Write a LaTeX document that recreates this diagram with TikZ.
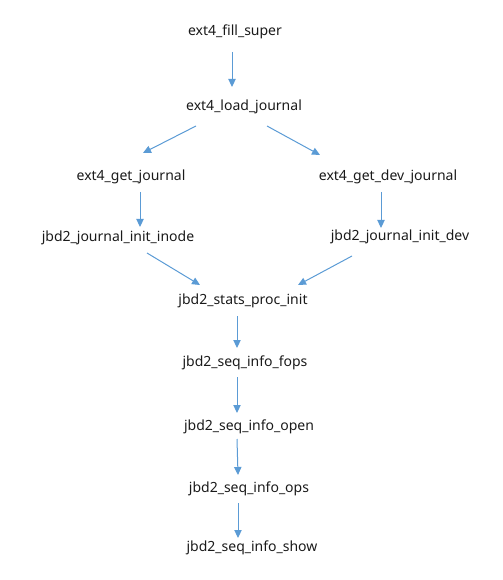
\documentclass[tikz,border=0pt]{standalone}
\usepackage{fontspec}
\setmainfont{Noto Sans}
\usetikzlibrary{arrows.meta, positioning}
\definecolor{callblue}{HTML}{5B9BD5}
\definecolor{fntext}{HTML}{1A1A1A}

\begin{document}
\begin{tikzpicture}[
    x=0.75pt, y=-0.75pt, >={Triangle[length=6pt, width=5.5pt]},
    func/.style={text=fntext, font=\fontsize{10.5}{12}\selectfont,
                 inner sep=0pt},
    call/.style={->, draw=callblue, line width=0.75pt}
  ]
  \useasboundingbox (0,0) rectangle (502,580);

  % ext4 side
  \node[func] (fs)  at (235,32)  {ext4\_fill\_super};
  \node[func] (lj)  at (244,107) {ext4\_load\_journal};
  \node[func] (gj)  at (131,177) {ext4\_get\_journal};
  \node[func] (gdj) at (388,177) {ext4\_get\_dev\_journal};

  % jbd2 side
  \node[func] (jii)  at (118,238) {jbd2\_journal\_init\_inode};
  \node[func] (jid)  at (400,237) {jbd2\_journal\_init\_dev};
  \node[func] (spi)  at (243,301) {jbd2\_stats\_proc\_init};
  \node[func] (fops) at (245,363) {jbd2\_seq\_info\_fops};
  \node[func] (open) at (249,427) {jbd2\_seq\_info\_open};
  \node[func] (ops)  at (249,489) {jbd2\_seq\_info\_ops};
  \node[func] (show) at (252,548) {jbd2\_seq\_info\_show};

  \draw[call] ([shift={(-3,20)}]fs.center) -- ([shift={(-12,-20)}]lj.center);
  \draw[call] ([shift={(-48,19)}]lj.center) -- ([shift={(12,-24)}]gj.center);
  \draw[call] ([shift={(23,19)}]lj.center) -- ([shift={(-68,-22)}]gdj.center);
  \draw[call] ([shift={(9,15)}]gj.center) -- ([shift={(22,-11)}]jii.center);
  \draw[call] ([shift={(-7,15)}]gdj.center) -- ([shift={(-19,-9)}]jid.center);
  \draw[call] ([shift={(29,15)}]jii.center) -- ([shift={(-43,-16)}]spi.center);
  \draw[call] ([shift={(-48,19)}]jid.center) -- ([shift={(55,-16)}]spi.center);
  \draw[call] ([shift={(-6,15)}]spi.center) -- ([shift={(-8,-15)}]fops.center);
  \draw[call] ([shift={(-8,14)}]fops.center) -- ([shift={(-12,-14)}]open.center);
  \draw[call] ([shift={(-12,12)}]open.center) -- ([shift={(-11,-14)}]ops.center);
  \draw[call] ([shift={(-11,14)}]ops.center) -- ([shift={(-14,-10)}]show.center);
\end{tikzpicture}
\end{document}
